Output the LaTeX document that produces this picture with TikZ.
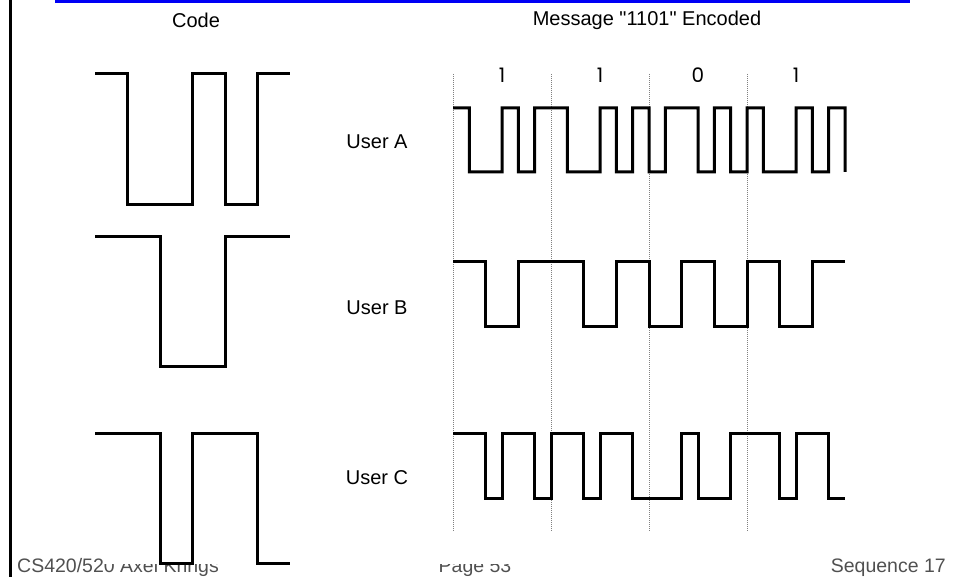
\documentclass[tikz,border=0pt]{standalone}
\usepackage{fontspec}
\setmainfont{Liberation Sans}
\newfontfamily\plainsans{Liberation Sans}
\newfontfamily\bitfont{Poppins}
\usetikzlibrary{positioning}
\definecolor{slideblue}{RGB}{0,0,245}
\definecolor{footgray}{RGB}{80,80,80}
\tikzset{
  wave/.style={line width=3pt, line join=miter},
  bitline/.style={gray, line width=0.7pt, dash pattern=on 1pt off 1pt},
  headlbl/.style={font=\plainsans\fontsize{20}{24}\selectfont, inner sep=0pt},
  userlbl/.style={font=\fontsize{20}{24}\selectfont, inner sep=0pt},
  bitlbl/.style={font=\bitfont\fontsize{20}{24}\selectfont, inner sep=0pt},
  foot/.style={font=\fontsize{19.5}{22}\selectfont, text=footgray, inner sep=0pt}
}
% #1 start x, #2 chip width, #3 high y, #4 low y, #5 chips, #6 path end
\newcommand{\chipwave}[6]{%
  \draw[wave] (#1,#3) \foreach \s [count=\i from 0] in {#5} {
    -- ({#1+\i*#2},{#3+(1-(\s))/2*(#4-(#3))})
    -- ({#1+(\i+1)*#2},{#3+(1-(\s))/2*(#4-(#3))}) } #6;}

\begin{document}
\begin{tikzpicture}[x=1pt, y=-1pt]
  \useasboundingbox (0,0) rectangle (959,577);
  % slide frame
  \fill[slideblue] (55,0) rectangle (910,3);
  \draw[line width=3pt] (10,0) -- (10,577);
  % footer, partly hidden behind the figure
  \node[foot, anchor=base west] (course) at (17,572) {CS420/520 Axel Krings};
  \node[foot, anchor=base] (page) at (475,572) {Page 53};
  \node[foot, anchor=base east] (seq) at (946,572) {Sequence 17};
  \fill[white] (104,545) rectangle (825,564);
  % headings
  \node[headlbl] (code) at (196,20) {Code};
  \node[headlbl] (msg) at (647,20) {Message "1101" Encoded};
  % bit boundaries
  \foreach \k in {0,...,3}
    \draw[bitline] ({453+\k*98},74) -- ({453+\k*98},532);
  \foreach \b [count=\k] in {1,1,0,1}
    \node[bitlbl] (bit\k) at ({453+(\k-0.5)*98},75) {\b};
  % spreading codes
  \chipwave{95}{32.5}{74}{205}{1,-1,-1,1,-1,1}{}
  \chipwave{95}{32.5}{237}{367}{1,1,-1,-1,1,1}{}
  \chipwave{95}{32.5}{433}{563}{1,1,-1,1,1,-1}{}
  % users
  \node[userlbl] (usera) at (377,142) {User A};
  \node[userlbl] (userb) at (377,308) {User B};
  \node[userlbl] (userc) at (377,478) {User C};
  % encoded messages
  \chipwave{453}{16.333}{108}{172}{1,-1,-1,1,-1,1, 1,-1,-1,1,-1,1, -1,1,1,-1,1,-1, 1,-1,-1,1,-1,1}{-- (845,172)}
  \chipwave{453}{16.333}{262}{327}{1,1,-1,-1,1,1, 1,1,-1,-1,1,1, -1,-1,1,1,-1,-1, 1,1,-1,-1,1,1}{}
  \chipwave{453}{16.333}{433}{498}{1,1,-1,1,1,-1, 1,1,-1,1,1,-1, -1,-1,1,-1,-1,1, 1,1,-1,1,1,-1}{}
\end{tikzpicture}
\end{document}
